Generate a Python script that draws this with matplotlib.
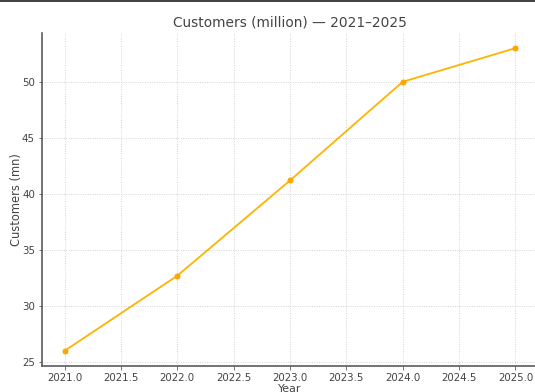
import matplotlib
matplotlib.use("Agg")
import matplotlib.pyplot as plt
from matplotlib.patches import Rectangle

years = [2021, 2022, 2023, 2024, 2025]
customers = [26.0, 32.7, 41.2, 50.0, 53.0]
title = "Customers (million) — 2021–2025"
xlabel = "Year"
ylabel = "Customers (mn)"

W, H = 535, 392
dpi = 72
fig = plt.figure(figsize=(W / dpi, H / dpi), dpi=dpi)
left, right, top, bottom = 42, 538, 33, 366
ax = fig.add_axes([left / W, (H - bottom) / H, (right - left) / W, (bottom - top) / H])

ax.plot(years, customers, color="#FFB300", lw=1.8, marker="o", ms=5,
        markerfacecolor="#FFA500", markeredgecolor="#FFA500", zorder=3)

ax.grid(True, linestyle=":", color="#cccccc", lw=0.9)
for s in ["top", "right"]:
    ax.spines[s].set_visible(False)
for s in ["left", "bottom"]:
    ax.spines[s].set_color("#555555")
    ax.spines[s].set_linewidth(1.6)
ax.tick_params(colors="#555555", labelcolor="#444444", labelsize=10.3)
ax.set_title(title, fontsize=13.8, color="#444444", pad=6)
ax.set_xlabel(xlabel, fontsize=11, color="#444444", labelpad=1)
ax.set_ylabel(ylabel, fontsize=11.5, color="#444444", labelpad=-1)

fig.patches.append(Rectangle((0, 1 - 2 / H), 1, 2 / H, transform=fig.transFigure,
                             facecolor="#444444", edgecolor="none", zorder=10))

fig.savefig("out.png", dpi=dpi)
